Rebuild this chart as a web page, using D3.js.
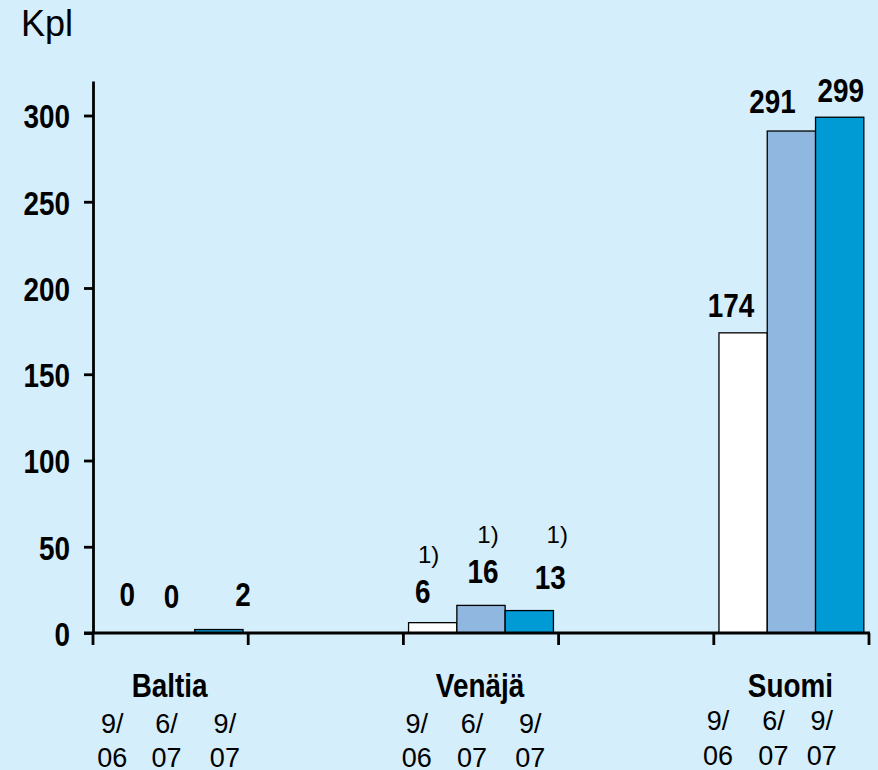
<!DOCTYPE html>
<html><head><meta charset="utf-8">
<script src="https://cdn.jsdelivr.net/npm/d3@7"></script>
<style>
html,body{margin:0;padding:0;background:#d4eefb;}
svg{display:block;}
.narrow{font-family:"Liberation Sans",Arial,sans-serif;font-weight:bold;}
.reg{font-family:"Liberation Sans",Arial,sans-serif;}
</style></head><body>
<svg id="c" width="878" height="770"></svg>
<script>
// ---- data ----
const categories = ["Baltia", "Venäjä", "Suomi"];
const periods = ["9/06", "6/07", "9/07"];
const periodLabels = [["9/", "06"], ["6/", "07"], ["9/", "07"]];
const baltia = [0, 0, 2];
const venaja = [6, 16, 13];
const suomi = [174, 291, 299];
const footnoted = [[false,false,false],[true,true,true],[false,false,false]];
const yTicks = [0, 50, 100, 150, 200, 250, 300];
const unitLabel = "Kpl";
const seriesValues = [baltia, venaja, suomi];

// ---- layout / style ----
const W = 878, H = 770;
const colors = ["#ffffff", "#8fb7df", "#009bd5"];
const SX = 0.82; // horizontal condensing of bold labels
// hand nudges for label placement (px), per category per bar
const valueDx = [[5,1,24], [-10,2,21], [-12,-19,1]];
const valueLift = [[27,25,23.5], [20,22,22], [16,18,15]];
const noteDx = [[0,0,0], [6,5,7], [0,0,0]];
const noteLift = [[0,0,0], [40,40,46], [0,0,0]];
const subNudge = [[-10,-4,6], [-16,-9,1], [-25,-18,-18]];

const svg = d3.select("#c");
svg.append("rect").attr("width", W).attr("height", H).attr("fill", "#d4eefb");

const slots = ["Baltia", "_g1", "Venäjä", "_g2", "Suomi"];
const x = d3.scaleBand().domain(slots).range([93, 869]).padding(0);
const xs = d3.scaleBand().domain(periods).range([0, x.bandwidth()]).paddingInner(0).paddingOuter(0.107);
const y = d3.scaleLinear().domain([0, 320]).range([633, 81]);

function boldText(parent, tx, ty, str, anchor) {
  const g = parent.append("g").attr("transform", `translate(${tx},${ty}) scale(${SX},1)`);
  g.append("text").attr("class", "narrow").attr("font-size", 34).attr("fill", "#000")
    .attr("text-anchor", anchor || "middle").text(str);
  return g;
}

// y axis
const ya = svg.append("g").attr("transform", "translate(93,0)")
  .call(d3.axisLeft(y).tickValues(yTicks).tickSize(9).tickSizeOuter(0).tickPadding(14));
ya.select(".domain").attr("stroke", "#000").attr("stroke-width", 2.8);
ya.selectAll(".tick line").attr("stroke", "#000").attr("stroke-width", 2.8);
ya.selectAll(".tick text").attr("class", "narrow").attr("font-size", 34).attr("fill", "#000")
  .attr("dy", "0.36em").attr("x", -23 / SX).attr("transform", `scale(${SX},1)`);

// unit
svg.append("text").attr("class", "reg").attr("x", 21).attr("y", 36).attr("font-size", 36).attr("fill", "#000").text(unitLabel);

// bars
categories.forEach((cat, ci) => {
  const g = svg.append("g").attr("transform", `translate(${x(cat)},0)`);
  const vals = seriesValues[ci];
  g.selectAll("rect").data(vals).join("rect")
    .attr("x", (d, i) => xs(periods[i]))
    .attr("width", xs.bandwidth())
    .attr("y", d => y(d))
    .attr("height", d => y(0) - y(d))
    .attr("fill", (d, i) => colors[i])
    .attr("stroke", d => d > 0 ? "#000" : "none")
    .attr("stroke-width", 1.3);
  vals.forEach((d, i) => {
    const vx = xs(periods[i]) + xs.bandwidth() / 2 + valueDx[ci][i];
    const vy = y(d) - valueLift[ci][i];
    boldText(g, vx, vy, d);
    if (footnoted[ci][i]) {
      g.append("text").attr("class", "reg").attr("font-size", 24).attr("fill", "#000")
        .attr("text-anchor", "middle")
        .attr("x", vx + noteDx[ci][i]).attr("y", vy - noteLift[ci][i]).text("1)");
    }
  });
  // category label
  boldText(g, x.bandwidth() / 2 - 1, 697, cat);
  // period sub labels
  periodLabels.forEach((pl, i) => {
    const cx = xs(periods[i]) + xs.bandwidth() / 2 + subNudge[ci][i];
    const t = g.append("text").attr("class", "reg").attr("font-size", 27).attr("fill", "#000").attr("text-anchor", "middle");
    t.append("tspan").attr("x", cx).attr("y", ci === 2 ? 730 : 733).text(pl[0]);
    t.append("tspan").attr("x", cx).attr("y", ci === 2 ? 765 : 767).text(pl[1]);
  });
});

// x axis line and boundary ticks
const xEdges = slots.map(s => x(s)).concat([x.range()[1]]);
svg.append("line").attr("x1", 84).attr("x2", x.range()[1] + 1).attr("y1", y(0)).attr("y2", y(0))
  .attr("stroke", "#000").attr("stroke-width", 2.8);
svg.selectAll("line.xt").data(xEdges).join("line").attr("class", "xt")
  .attr("x1", d => d).attr("x2", d => d).attr("y1", y(0)).attr("y2", y(0) + 12)
  .attr("stroke", "#000").attr("stroke-width", 2.8);
</script>
</body></html>
